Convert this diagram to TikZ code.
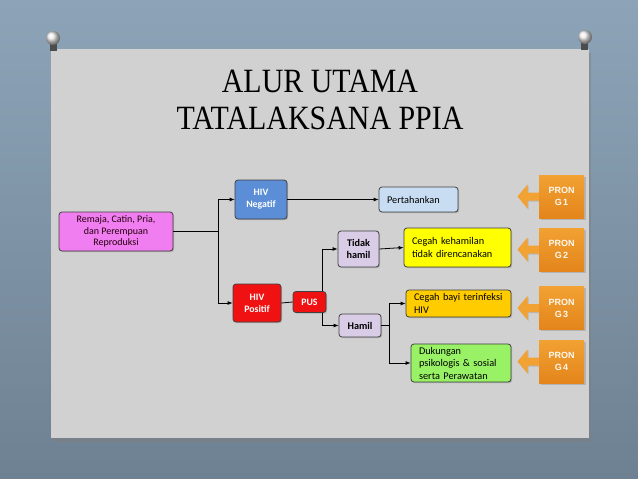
\documentclass[tikz,border=0pt]{standalone}
\usepackage{fontspec}
\setmainfont{Carlito}
\newfontfamily\titlefont{Liberation Serif}
\newfontfamily\pronfont{Liberation Sans}
\usetikzlibrary{positioning, shadows, arrows.meta}

\definecolor{bgblue}{HTML}{8DA4B8}
\definecolor{bgdark}{HTML}{6E8192}
\definecolor{board}{HTML}{D1D1D1}
\definecolor{pinkbox}{HTML}{F07EF0}
\definecolor{negblue}{HTML}{5B8ED6}
\definecolor{posred}{HTML}{F01212}
\definecolor{lilac}{HTML}{D9CCE6}
\definecolor{paleblue}{HTML}{C9DDF2}
\definecolor{yelbox}{HTML}{FFFF00}
\definecolor{goldbox}{HTML}{FFCC00}
\definecolor{greenbox}{HTML}{99F266}
\definecolor{orangetop}{HTML}{F2A133}
\definecolor{orangebot}{HTML}{E3851B}

\begin{document}
\begin{tikzpicture}[x=1pt, y=-1pt,
    >={Latex[length=5pt, width=4pt]},
    box/.style={rectangle, rounded corners=3pt, draw=black!75, thick, align=center,
        inner sep=2pt, font=\fontsize{10.3}{13}\selectfont,
        drop shadow={opacity=0.4, shadow xshift=1.2pt, shadow yshift=-1.2pt}},
    lbox/.style={box, align=left, inner xsep=8pt},
    hiv/.style={box, text=white, font=\fontsize{9.8}{12}\selectfont\bfseries},
    stat/.style={box, fill=lilac, font=\fontsize{10.2}{12}\selectfont\bfseries},
    pron/.style={rectangle, top color=orangetop, bottom color=orangebot, draw=none,
        minimum width=45, minimum height=43, align=center, text=white!95!orange,
        font=\pronfont\fontsize{9}{12}\selectfont\bfseries,
        drop shadow={opacity=0.35, shadow xshift=1.5pt, shadow yshift=-1.5pt}},
    heading/.style={anchor=base, font=\titlefont\fontsize{34}{34}\selectfont},
    flow/.style={line width=0.8pt, black},
]
    \useasboundingbox (0,0) rectangle (638,479);

    % Background and board
    \shade[top color=bgblue, bottom color=bgdark] (0,0) rectangle (638,479);
    \fill[board, drop shadow={opacity=0.5, shadow xshift=2pt, shadow yshift=-4pt}]
        (51,49) rectangle (589,438);
    \fill[gray!60!black] (50,36) rectangle (57,51);
    \shade[ball color=white!85!gray] (53,38) circle (7);
    \fill[gray!60!black] (581,35) rectangle (588,50);
    \shade[ball color=white!85!gray] (585,37) circle (7);

    % Title
    \node[heading] (title1) at (320,92) {\scalebox{0.88}[1]{ALUR UTAMA}};
    \node[heading] (title2) at (320,129) {\scalebox{0.88}[1]{TATALAKSANA PPIA}};

    % Nodes
    \node[box, fill=pinkbox, text=black!80!purple, minimum width=114, minimum height=39,
        font=\fontsize{10}{11.5}\selectfont] (Remaja) at (116,231.5)
        {Remaja, Catin, Pria,\\dan Perempuan\\Reproduksi};
    \node[hiv, fill=negblue, minimum width=52, minimum height=39] (HIVneg) at (261,199.5) {HIV\\Negatif};
    \node[hiv, fill=posred, minimum width=48, minimum height=38] (HIVpos) at (257,303) {HIV\\Positif};
    \node[hiv, fill=posred, minimum width=33, minimum height=21] (PUS) at (309.5,302) {PUS};
    \node[stat, minimum width=41, minimum height=36] (Tidak) at (358.5,249) {Tidak\\hamil};
    \node[stat, minimum width=42, minimum height=23] (Hamil) at (360,325.5) {Hamil};

    \node[lbox, fill=paleblue, text width=63, minimum height=25] (Pertahankan) at (418.5,199.5) {Pertahankan};
    \node[lbox, fill=yelbox, text width=91, minimum height=39] (CegahHamil) at (457.5,247.5)
        {Cegah kehamilan\\tidak direncanakan};
    \node[lbox, fill=goldbox, text width=89, minimum height=27] (CegahBayi) at (458.5,303.5)
        {Cegah bayi terinfeksi\\HIV};
    \node[lbox, fill=greenbox, text width=84, minimum height=38, font=\fontsize{10.3}{12.5}\selectfont]
        (Dukungan) at (461,363) {Dukungan\\psikologis \& sosial\\serta Perawatan};

    \foreach \i/\yy in {1/196.5, 2/249.5, 3/308, 4/361.5} {
        \fill[orangetop, drop shadow={opacity=0.3, shadow xshift=1pt, shadow yshift=-1pt}]
            (561.5,\yy) ++(-22,-4) -- ++(-12,0) -- ++(0,-8) -- ++(-10,12)
            -- ++(10,12) -- ++(0,-8) -- ++(12,0) -- cycle;
        \node[pron] (pron\i) at (561.5,\yy) {PRON\\G\,\i};
    }

    % Lines
    \draw[flow] (Remaja.east) -- ++(45,0) coordinate (split);
    \draw[flow, ->] (split) |- (HIVneg.west);
    \draw[flow, ->] (split) |- (HIVpos.west);
    \draw[flow, ->] (HIVneg.east) -- (Pertahankan.west);
    \draw[flow] (HIVpos.east) -- (PUS.west);
    \draw[flow, ->] ([xshift=-4pt]PUS.north east) |- (Tidak.west);
    \draw[flow, ->] ([xshift=-4pt]PUS.south east) |- (Hamil.west);
    \draw[flow, ->] (Tidak.east) -- (CegahHamil.west);
    \draw[flow] (Hamil.east) -- ++(8,0) coordinate (hsplit);
    \draw[flow, ->] (hsplit) |- (CegahBayi.west);
    \draw[flow, ->] (hsplit) |- (Dukungan.west);

\end{tikzpicture}
\end{document}
